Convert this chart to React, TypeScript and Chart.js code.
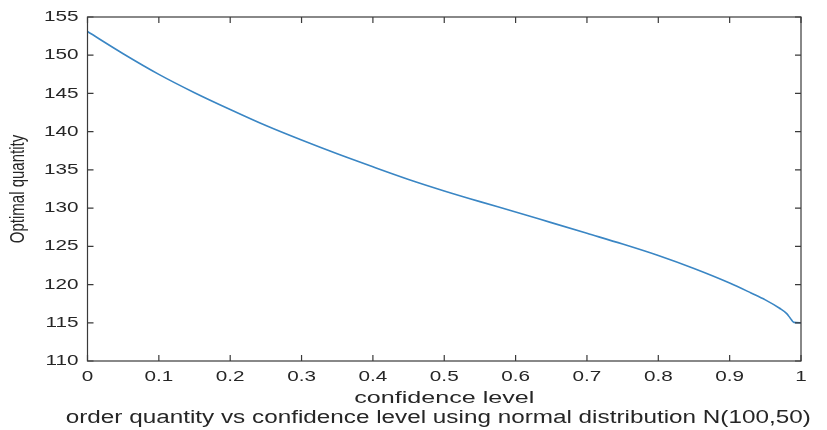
import React, { useEffect, useRef } from "react";
import { Chart, registerables } from "chart.js";

Chart.register(...registerables);

const confidence = [0, 0.05, 0.1, 0.15, 0.2, 0.25, 0.3, 0.35, 0.4, 0.45, 0.5, 0.55, 0.6, 0.65, 0.7, 0.75, 0.8, 0.85, 0.9, 0.93, 0.95, 0.97, 0.98, 0.985, 0.99, 1.0];
const quantity = [153.1, 150.2, 147.5, 145.1, 142.9, 140.8, 138.9, 137.1, 135.4, 133.75, 132.25, 130.85, 129.5, 128.1, 126.7, 125.3, 123.8, 122.1, 120.2, 118.9, 118.0, 116.9, 116.2, 115.6, 115.05, 115.0];
const xTicks = [0, 0.1, 0.2, 0.3, 0.4, 0.5, 0.6, 0.7, 0.8, 0.9, 1];
const xTickLabels = ["0", "0.1", "0.2", "0.3", "0.4", "0.5", "0.6", "0.7", "0.8", "0.9", "1"];
const yTicks = [110, 115, 120, 125, 130, 135, 140, 145, 150, 155];
const xAxisTitle = "confidence level";
const yAxisTitle = "Optimal quantity";
const figureTitle = "order quantity vs confidence level using normal distribution N(100,50)";

const FONT = '"Liberation Sans", Arial, Helvetica, sans-serif';
const AXIS_COLOR = "#3a3a3a";
const TEXT_COLOR = "#262626";

function drawText(
  ctx: CanvasRenderingContext2D,
  text: string,
  x: number,
  y: number,
  size: number,
  align: CanvasTextAlign,
  baseline: CanvasTextBaseline,
  sx: number,
  fitWidth?: number
) {
  ctx.save();
  ctx.font = `${size}px ${FONT}`;
  let scale = sx;
  if (fitWidth) {
    const w = ctx.measureText(text).width;
    scale = fitWidth / w;
  }
  ctx.translate(x, y);
  ctx.scale(scale, 1);
  ctx.textAlign = align;
  ctx.textBaseline = baseline;
  ctx.fillStyle = TEXT_COLOR;
  ctx.fillText(text, 0, 0);
  ctx.restore();
}

const axesPlugin = {
  id: "matlabAxes",
  afterDatasetsDraw(chart: any) {
    const ctx: CanvasRenderingContext2D = chart.ctx;
    const { left, right, top, bottom } = chart.chartArea;
    const xs = chart.scales.x;
    const ys = chart.scales.y;
    const tickLen = 6;
    ctx.save();
    ctx.strokeStyle = AXIS_COLOR;
    ctx.lineWidth = 1.2;
    ctx.strokeRect(left, top, right - left, bottom - top);
    ctx.beginPath();
    xTicks.forEach((v) => {
      const px = xs.getPixelForValue(v);
      ctx.moveTo(px, bottom);
      ctx.lineTo(px, bottom - tickLen);
      ctx.moveTo(px, top);
      ctx.lineTo(px, top + tickLen);
    });
    yTicks.forEach((v) => {
      const py = ys.getPixelForValue(v);
      ctx.moveTo(left, py);
      ctx.lineTo(left + tickLen, py);
      ctx.moveTo(right, py);
      ctx.lineTo(right - tickLen, py);
    });
    ctx.stroke();
    ctx.restore();

    xTicks.forEach((v, i) => {
      drawText(ctx, xTickLabels[i], xs.getPixelForValue(v), bottom + 8, 15, "center", "top", 1.38);
    });
    yTicks.forEach((v) => {
      drawText(ctx, String(v), left - 9, ys.getPixelForValue(v), 15, "right", "middle", 1.38);
    });

    drawText(ctx, xAxisTitle, (left + right) / 2 + 0, bottom + 42, 16, "center", "alphabetic", 1, 180);
    drawText(ctx, figureTitle, (left + right) / 2 - 6, bottom + 62, 18, "center", "alphabetic", 1, 745);

    ctx.save();
    ctx.font = `15px ${FONT}`;
    ctx.translate(18, (top + bottom) / 2);
    ctx.rotate(-Math.PI / 2);
    ctx.scale(1, 1.35);
    ctx.textAlign = "center";
    ctx.textBaseline = "middle";
    ctx.fillStyle = TEXT_COLOR;
    ctx.fillText(yAxisTitle, 0, 0);
    ctx.restore();
  },
};

export default function App() {
  const canvasRef = useRef<HTMLCanvasElement | null>(null);

  useEffect(() => {
    if (!canvasRef.current) return;
    const chart = new Chart(canvasRef.current, {
      type: "line",
      data: {
        datasets: [
          {
            data: confidence.map((c, i) => ({ x: c, y: quantity[i] })),
            borderColor: "#3a86c4",
            borderWidth: 1.6,
            pointRadius: 0,
            fill: false,
            cubicInterpolationMode: "monotone",
          },
        ],
      },
      options: {
        responsive: false,
        animation: false,
        events: [],
        layout: { padding: { left: 87.5, right: 26, top: 17, bottom: 69 } },
        plugins: { legend: { display: false }, tooltip: { enabled: false }, title: { display: false } },
        scales: {
          x: { type: "linear", min: 0, max: 1, display: false },
          y: { type: "linear", min: 110, max: 155, display: false },
        },
      },
      plugins: [axesPlugin],
    });
    return () => chart.destroy();
  }, []);

  return (
    <div style={{ position: "absolute", left: 0, top: 0, width: 827, height: 430, background: "#fff" }}>
      <canvas ref={canvasRef} width={827} height={430} style={{ width: 827, height: 430 }} />
    </div>
  );
}
